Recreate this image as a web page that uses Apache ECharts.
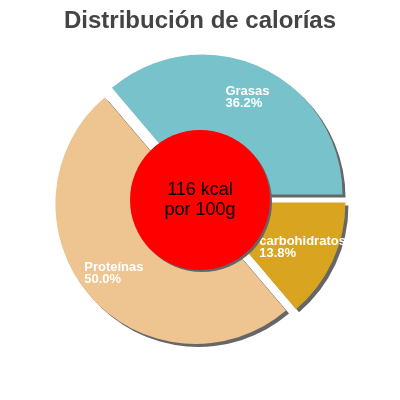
<!DOCTYPE html>
<html>
<head>
<meta charset="utf-8">
<script src="https://cdn.jsdelivr.net/npm/echarts@6/dist/echarts.min.js"></script>
<style>html,body{margin:0;padding:0;background:#fff}#c{width:400px;height:400px}</style>
</head>
<body>
<div id="c"></div>
<script>
var titleText = 'Distribución de calorías';
var categories = ['Grasas', 'Proteínas', 'carbohidratos'];
var percents = [36.2, 50.0, 13.8];
var colors = ['#78c3cb', '#eec590', '#d9a521'];
var centerLines = ['116 kcal', 'por 100g'];

var chart = echarts.init(document.getElementById('c'));
var sliceData = categories.map(function (n, i) {
  return { name: n, value: percents[i], selected: true, itemStyle: { color: colors[i] } };
});
var labelData = categories.map(function (n, i) {
  return { name: n, value: percents[i], selected: true };
});
var shadow = { shadowColor: '#666666', shadowBlur: 0, shadowOffsetX: 3, shadowOffsetY: 3 };
chart.setOption({
  animation: false,
  title: {
    text: titleText, left: 'center', top: 4,
    textStyle: { fontFamily: 'Liberation Sans', fontSize: 24, fontWeight: 'bold', color: '#444444' }
  },
  series: [
    {
      type: 'pie', center: [200, 200], radius: [0, 140], startAngle: 0, clockwise: false,
      selectedMode: 'multiple', selectedOffset: 6, silent: true,
      emphasis: { disabled: true },
      itemStyle: Object.assign({ borderWidth: 0 }, shadow),
      select: { itemStyle: Object.assign({ borderWidth: 0 }, shadow) },
      label: { show: false }, labelLine: { show: false },
      data: sliceData, z: 1
    },
    {
      type: 'pie', center: [200, 200], radius: [68, 140], startAngle: 0, clockwise: false,
      selectedMode: 'multiple', selectedOffset: 6, silent: true,
      emphasis: { disabled: true },
      itemStyle: { color: 'rgba(0,0,0,0)', borderWidth: 0 },
      select: { itemStyle: { color: 'rgba(0,0,0,0)', borderWidth: 0 } },
      label: {
        show: true, position: 'inside', color: '#fff',
        formatter: function (p) { return '{a|' + p.name + '}\n{a|' + p.value.toFixed(1) + '%}'; },
        rich: { a: { align: 'left', color: '#fff', fontFamily: 'Liberation Sans', fontSize: 13, fontWeight: 'bold', lineHeight: 12 } }
      },
      labelLine: { show: false },
      data: labelData, z: 3
    },
    {
      type: 'pie', center: [200, 200], radius: [0, 70], silent: true,
      emphasis: { disabled: true },
      itemStyle: Object.assign({ color: '#ff0000', borderWidth: 0 }, { shadowColor: '#666666', shadowBlur: 0, shadowOffsetX: 2, shadowOffsetY: 2 }),
      label: {
        show: true, position: 'center', color: '#000',
        fontFamily: 'Liberation Sans', fontSize: 18, lineHeight: 20,
        formatter: centerLines.join('\n')
      },
      labelLine: { show: false },
      data: [{ name: 'kcal', value: 1 }], z: 4
    }
  ]
});
</script>
</body>
</html>
